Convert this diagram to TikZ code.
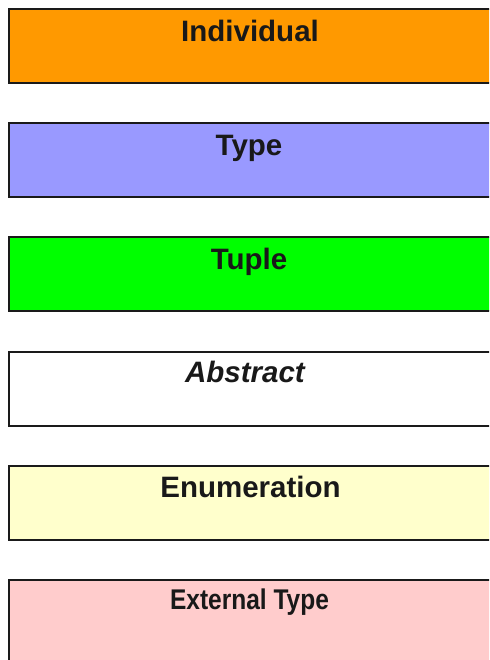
\documentclass[tikz,border=0pt]{standalone}
\usepackage{fontspec}
\setmainfont{Liberation Sans}
\newfontfamily\narrowbold[FakeStretch=0.86]{Liberation Sans Bold}
\definecolor{cInd}{HTML}{FF9900}
\definecolor{cType}{HTML}{9999FF}
\definecolor{cTuple}{HTML}{00FF00}
\definecolor{cEnum}{HTML}{FFFFCC}
\definecolor{cExt}{HTML}{FFCCCC}
\definecolor{cBorder}{HTML}{1A1A1A}
\begin{document}
\begin{tikzpicture}[x=1pt,y=1pt,
  legendbox/.style={draw=cBorder,line width=2pt},
  legendtext/.style={anchor=base,inner sep=0pt,text=black!90,font=\fontsize{29.5}{32}\selectfont\bfseries}]
\useasboundingbox (0,0) rectangle (489,660);
\clip (0,0) rectangle (489,660);
% boxes (y measured from top: top edges 9, 123.2, 237.4, 351.6, 465.8, 580)
\path[legendbox,fill=cInd]   (9,651) rectangle (500,577) coordinate (b1);
\path[legendbox,fill=cType]  (9,536.8) rectangle (500,462.8) coordinate (b2);
\path[legendbox,fill=cTuple] (9,422.6) rectangle (500,348.6) coordinate (b3);
\path[legendbox,fill=white]  (9,308.4) rectangle (500,234.4) coordinate (b4);
\path[legendbox,fill=cEnum]  (9,194.2) rectangle (500,120.2) coordinate (b5);
\path[legendbox,fill=cExt]   (9,80) rectangle (500,-10) coordinate (b6);
% labels
\node[legendtext] (t1) at (250,618) {Individual};
\node[legendtext] (t2) at (249,504) {Type};
\node[legendtext] (t3) at (249,390) {Tuple};
\node[legendtext,font=\fontsize{29.5}{32}\selectfont\bfseries\itshape] (t4) at (245,277) {Abstract};
\node[legendtext] (t5) at (250.5,162) {Enumeration};
\node[legendtext,font=\fontsize{28.5}{32}\selectfont\narrowbold] (t6) at (249.5,50) {External Type};
\end{tikzpicture}
\end{document}
